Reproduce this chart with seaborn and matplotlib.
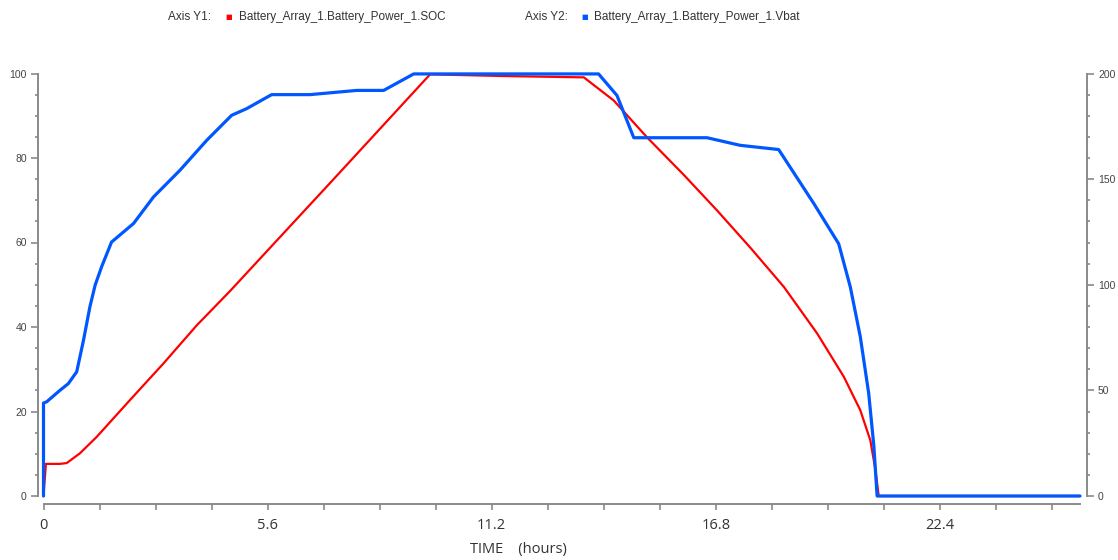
import matplotlib
matplotlib.use("Agg")
import matplotlib.pyplot as plt
import seaborn as sns
import pandas as pd
from matplotlib.ticker import MultipleLocator, FixedLocator

# ---- data ----
soc_time = [0.0, 0.06, 0.41, 0.58, 0.91, 1.33, 2.16, 3.0, 3.83, 4.66, 7.25, 9.66,
            11.5, 13.41, 13.5, 14.25, 15.08, 16.0, 16.83, 17.66, 18.5, 19.33,
            20.0, 20.41, 20.66, 20.79, 20.87, 25.9]
soc_value = [0.0, 7.6, 7.6, 7.8, 10.1, 14.0, 22.7, 31.4, 40.4, 48.5, 75.0, 99.8,
             99.4, 99.1, 99.1, 93.6, 84.9, 76.0, 67.6, 58.8, 49.5, 38.5,
             28.2, 20.3, 13.2, 6.1, 0.0, 0.0]

vbat_time = [0.0, 0.0, 0.08, 0.41, 0.62, 0.83, 1.0, 1.16, 1.29, 1.45, 1.7, 2.25, 2.75,
             3.41, 4.08, 4.7, 5.08, 5.7, 6.66, 7.83, 8.5, 9.25, 13.87, 14.33, 14.75,
             16.58, 17.41, 18.37, 19.25, 19.87, 20.16, 20.41, 20.62, 20.75, 20.83, 25.9]
vbat_value = [0.0, 44.0, 44.6, 50.0, 53.2, 58.8, 73.8, 89.6, 99.8, 108.4, 120.2, 129.0,
              141.6, 154.2, 168.4, 180.2, 183.4, 190.0, 190.0, 192.0, 192.0, 199.8, 199.8,
              189.6, 169.6, 169.6, 166.0, 164.0, 138.4, 119.4, 99.0, 75.4, 48.6, 23.4,
              0.0, 0.0]

x_ticks = [0, 5.6, 11.2, 16.8, 22.4]
y1_ticks = [0, 20, 40, 60, 80, 100]
y2_ticks = [0, 50, 100, 150, 200]

soc_name = "Battery_Array_1.Battery_Power_1.SOC"
vbat_name = "Battery_Array_1.Battery_Power_1.Vbat"

df_soc = pd.DataFrame({"t": soc_time, "v": soc_value})
df_vbat = pd.DataFrame({"t": vbat_time, "v": vbat_value})

sns.set_style("ticks")
plt.rcParams["font.family"] = ["Liberation Sans", "DejaVu Sans"]

W, H = 1118, 560
fig = plt.figure(figsize=(W / 100, H / 100), dpi=100)
left, right = 43.5 / W, 1080 / W
bottom, top = (H - 496) / H, (H - 73.5) / H
ax = fig.add_axes([left, bottom, right - left, top - bottom])
ax2 = ax.twinx()

red = "#FF0000"
blue = "#0057FF"
sns.lineplot(data=df_soc, x="t", y="v", ax=ax, color=red, linewidth=1.6,
             estimator=None, sort=False, zorder=2)
sns.lineplot(data=df_vbat, x="t", y="v", ax=ax2, color=blue, linewidth=2.3,
             estimator=None, sort=False, zorder=3)
for ln in ax.lines + ax2.lines:
    ln.set_clip_on(False)

ax.set_xlim(0, 25.9)
ax.set_ylim(0, 100)
ax2.set_ylim(0, 200)

spine_col = "#8a8a8a"
for a in (ax, ax2):
    for s in a.spines.values():
        s.set_color(spine_col)
        s.set_linewidth(1.4)
    a.spines["top"].set_visible(False)
    a.set_xlabel("")
    a.set_ylabel("")

ax.spines["right"].set_visible(False)
ax2.spines["left"].set_visible(False)
ax2.spines["bottom"].set_visible(False)
ax.spines["left"].set_position(("outward", 4))
ax.spines["bottom"].set_position(("outward", 6))
ax2.spines["right"].set_position(("outward", 5))

ax.xaxis.set_major_locator(FixedLocator(x_ticks))
ax.xaxis.set_minor_locator(MultipleLocator(1.4))
ax.set_xticklabels([f"{v:g}" for v in x_ticks])
ax.yaxis.set_major_locator(FixedLocator(y1_ticks))
ax.yaxis.set_minor_locator(MultipleLocator(5))
ax2.yaxis.set_major_locator(FixedLocator(y2_ticks))
ax2.yaxis.set_minor_locator(MultipleLocator(10))

ax.tick_params(axis="x", which="both", direction="out", length=4, width=1.2,
               color=spine_col, labelsize=10.5, labelcolor="#333333", pad=6)
for lab in ax.get_xticklabels():
    lab.set_family(["Open Sans", "DejaVu Sans"])
ax.tick_params(axis="y", which="major", direction="out", length=5, width=1.2,
               color=spine_col, labelsize=7.5, labelcolor="#444444", pad=3)
ax.tick_params(axis="y", which="minor", direction="out", length=2.5, width=1.2,
               color=spine_col)
ax2.tick_params(axis="y", which="major", direction="out", length=5, width=1.2,
                color=spine_col, labelsize=7.5, labelcolor="#444444", pad=3)
ax2.tick_params(axis="y", which="minor", direction="out", length=2.5, width=1.2,
                color=spine_col)

fig.text(518 / W, 1 - 549 / H, "TIME    (hours)", ha="center", va="center",
         fontsize=10.5, color="#333333", family=["Open Sans", "DejaVu Sans"])

# header legend
ty = 1 - 17 / H
fig.text(168 / W, ty, "Axis Y1:", ha="left", va="center", fontsize=8.5, color="#333333")
fig.text(229 / W, ty, "■", ha="center", va="center", fontsize=5, color=red,
         family=["DejaVu Sans"])
fig.text(239 / W, ty, soc_name, ha="left", va="center", fontsize=8.5, color="#333333")
fig.text(525 / W, ty, "Axis Y2:", ha="left", va="center", fontsize=8.5, color="#333333")
fig.text(585 / W, ty, "■", ha="center", va="center", fontsize=5, color=blue,
         family=["DejaVu Sans"])
fig.text(594 / W, ty, vbat_name, ha="left", va="center", fontsize=8.5, color="#333333")

fig.savefig("out.png", dpi=100)
